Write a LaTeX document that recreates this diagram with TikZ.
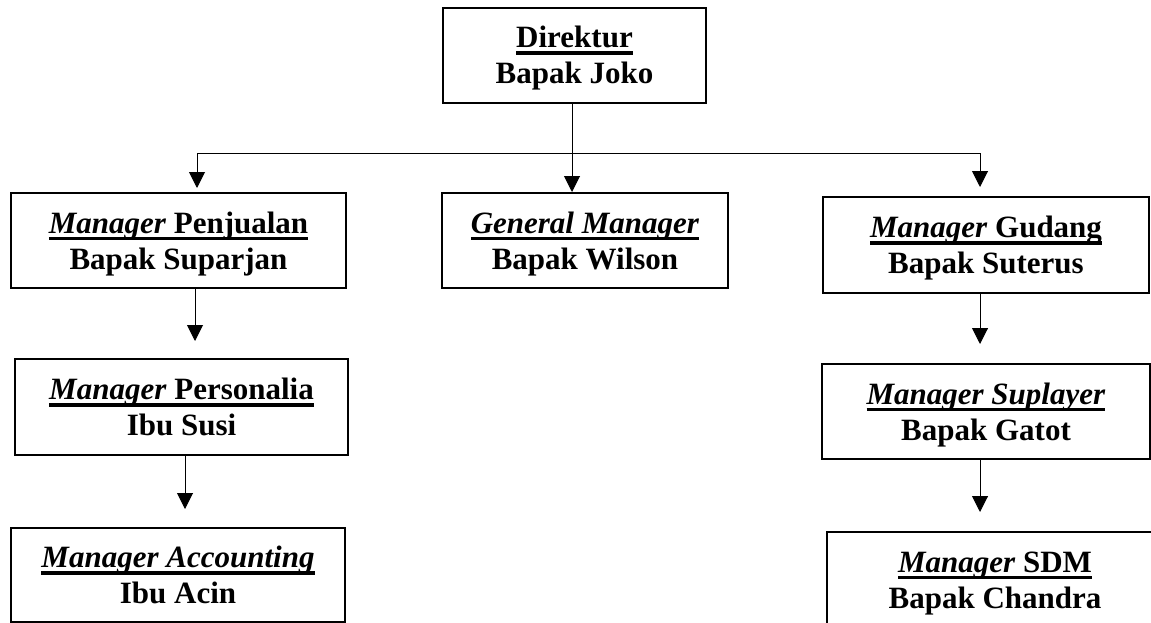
\documentclass[tikz,border=0pt]{standalone}
\usepackage{fontspec}
\setmainfont{Liberation Serif}
\usetikzlibrary{arrows.meta}
\newcommand\myul[1]{\rule{0pt}{28pt}\setbox0=\hbox{#1}\rlap{\rule[-7pt]{\wd0}{3.5pt}}\box0}
\newcommand\lastln[1]{\rule[-7pt]{0pt}{7pt}#1}
\tikzset{
  box/.style={draw, line width=2pt, inner sep=0pt, align=center,
    font=\fontsize{31}{36}\selectfont\bfseries, minimum height=95pt},
  arr/.style={line width=1pt, -{Triangle[length=16pt,width=16pt]}}
}
\begin{document}
\begin{tikzpicture}[x=1pt,y=-1pt]
\useasboundingbox (0,0) rectangle (1151,623);
\clip (0,0) rectangle (1151,623);
\node[box, minimum width=263pt] (dir) at (574.5,55.5) {\myul{Direktur}\\\lastln{Bapak Joko}};
\node[box, minimum width=286pt] (gm) at (585,240.5) {\myul{\textit{General Manager}}\\\lastln{Bapak Wilson}};
\node[box, minimum width=335pt] (pj) at (178.5,240.5) {\myul{\textit{Manager} Penjualan}\\\lastln{Bapak Suparjan}};
\node[box, minimum width=326pt, minimum height=96pt] (gd) at (986,245) {\myul{\textit{Manager} Gudang}\\\lastln{Bapak Suterus}};
\node[box, minimum width=333pt, minimum height=96pt] (ps) at (181.5,407) {\myul{\textit{Manager} Personalia}\\\lastln{Ibu Susi}};
\node[box, minimum width=334pt, minimum height=94pt] (ac) at (178,575) {\myul{\textit{Manager Accounting}}\\\lastln{Ibu Acin}};
\node[box, minimum width=328pt] (sp) at (986,411.5) {\myul{\textit{Manager Suplayer}}\\\lastln{Bapak Gatot}};
\node[box, minimum width=336pt] (sdm) at (995,579.5) {\myul{\textit{Manager} SDM}\\\lastln{Bapak Chandra}};

\coordinate (j) at ([xshift=-2.5pt]dir.south |- 0,154);
\draw[arr] ([xshift=-2.5pt]dir.south) -- ([xshift=-2.5pt]dir.south |- gm.north);
\draw[arr, shorten >=4pt] (j) -| ([xshift=18.5pt]pj.north);
\draw[arr, shorten >=9pt] (j) -| ([xshift=-6pt]gd.north);
\draw[arr, shorten >=17pt] ([xshift=16.5pt]pj.south) -- ([xshift=16.5pt]pj.south |- ps.north);
\draw[arr, shorten >=18pt] ([xshift=3.5pt]ps.south) -- ([xshift=3.5pt]ps.south |- ac.north);
\draw[arr, shorten >=19pt] ([xshift=-6pt]gd.south) -- ([xshift=-6pt]gd.south |- sp.north);
\draw[arr, shorten >=19pt] ([xshift=-6pt]sp.south) -- ([xshift=-6pt]sp.south |- sdm.north);
\end{tikzpicture}
\end{document}
